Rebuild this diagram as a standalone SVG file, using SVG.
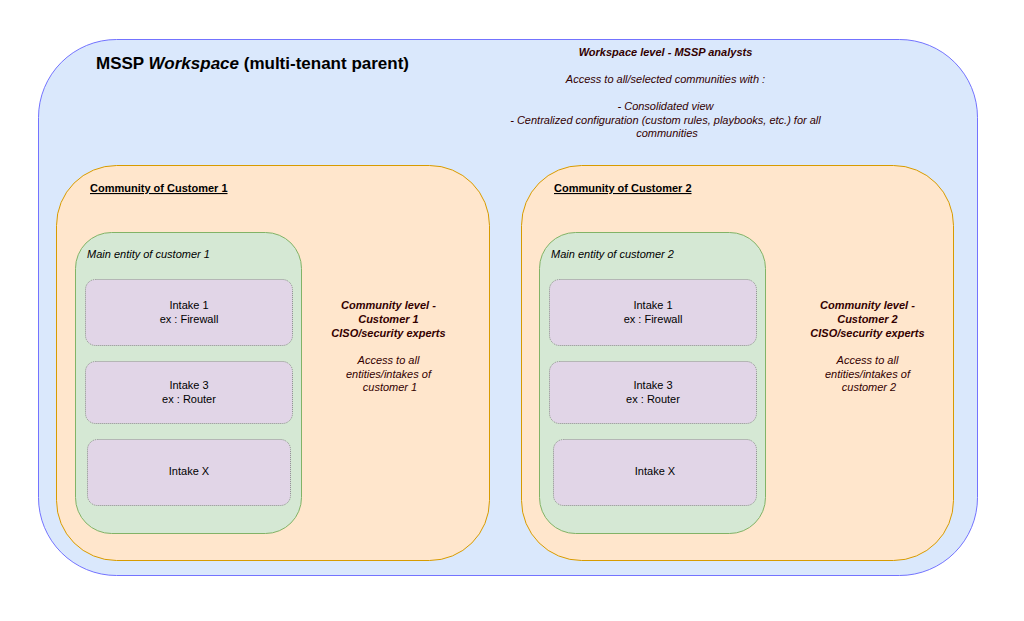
<svg xmlns="http://www.w3.org/2000/svg" width="1024" height="621" viewBox="0 0 1024 621">
<style>
text{font-family:"Liberation Sans",Arial,Helvetica,sans-serif;}
.ws{fill:#dae8fc;stroke:#7373ff;stroke-width:1;}
.com{fill:#ffe6cc;stroke:#d79b00;stroke-width:1;}
.ent{fill:#d5e8d4;stroke:#82b366;stroke-width:1;}
.int{fill:#e1d5e7;stroke:#8c8c8c;stroke-width:1;stroke-dasharray:1 1;}
.t11{font-size:11px;fill:#000;}
.note{font-size:11px;fill:#330000;font-style:italic;}
.b{font-weight:bold;}
.ctr{text-anchor:middle;}
</style>
<rect width="1024" height="621" fill="#ffffff"/>
<g id="workspace">
<rect class="ws" x="38.500" y="39.500" width="939" height="536" rx="78" ry="78"/>
<text x="96" y="69" font-size="17" font-weight="bold" fill="#000">MSSP <tspan font-style="italic">Workspace</tspan> (multi-tenant parent)</text>
<text class="note ctr" x="667">
<tspan x="667" y="56" class="b">Workspace level - MSSP analysts</tspan>
<tspan x="667" y="83">Access to all/selected communities with :</tspan>
<tspan x="667" y="110">- Consolidated view</tspan>
<tspan x="667" y="123.500">- Centralized configuration (custom rules, playbooks, etc.) for all</tspan>
<tspan x="667" y="137">communities</tspan>
</text>
</g>
<g id="community1">
<rect class="com" x="56.500" y="165.500" width="433" height="395" rx="60" ry="60"/>
<text class="t11 b" x="90" y="192" text-decoration="underline">Community of Customer 1</text>
<text class="note ctr">
<tspan x="390" y="309" class="b">Community level -</tspan>
<tspan x="390" y="323" class="b">Customer 1</tspan>
<tspan x="390" y="337" class="b">CISO/security experts</tspan>
<tspan x="390" y="364">Access to all</tspan>
<tspan x="390" y="377.500">entities/intakes of</tspan>
<tspan x="390" y="391">customer 1</tspan>
</text>
</g>
<g id="entity1">
<rect class="ent" x="75.500" y="232.500" width="226" height="301" rx="36" ry="36"/>
<text class="t11" x="87" y="258" font-style="italic">Main entity of customer 1</text>
</g>
<g id="c1-intake1">
<rect class="int" x="85.500" y="279.500" width="207" height="66" rx="10" ry="10"/>
<text class="t11 ctr"><tspan x="189" y="309">Intake 1</tspan><tspan x="189" y="323">ex : Firewall</tspan></text>
</g>
<g id="c1-intake3">
<rect class="int" x="85.500" y="361.500" width="207" height="62" rx="10" ry="10"/>
<text class="t11 ctr"><tspan x="189" y="389">Intake 3</tspan><tspan x="189" y="403">ex : Router</tspan></text>
</g>
<g id="c1-intakeX">
<rect class="int" x="87.500" y="439.500" width="203" height="66" rx="10" ry="10"/>
<text class="t11 ctr" x="189" y="475">Intake X</text>
</g>
<g id="community2">
<rect class="com" x="521.500" y="165.500" width="432" height="395" rx="60" ry="60"/>
<text class="t11 b" x="554" y="192" text-decoration="underline">Community of Customer 2</text>
<text class="note ctr">
<tspan x="869" y="309" class="b">Community level -</tspan>
<tspan x="869" y="323" class="b">Customer 2</tspan>
<tspan x="869" y="337" class="b">CISO/security experts</tspan>
<tspan x="869" y="364">Access to all</tspan>
<tspan x="869" y="377.500">entities/intakes of</tspan>
<tspan x="869" y="391">customer 2</tspan>
</text>
</g>
<g id="entity2">
<rect class="ent" x="539.500" y="232.500" width="226" height="301" rx="36" ry="36"/>
<text class="t11" x="551" y="258" font-style="italic">Main entity of customer 2</text>
</g>
<g id="c2-intake1">
<rect class="int" x="549.500" y="279.500" width="207" height="66" rx="10" ry="10"/>
<text class="t11 ctr"><tspan x="653" y="309">Intake 1</tspan><tspan x="653" y="323">ex : Firewall</tspan></text>
</g>
<g id="c2-intake3">
<rect class="int" x="549.500" y="361.500" width="207" height="62" rx="10" ry="10"/>
<text class="t11 ctr"><tspan x="653" y="389">Intake 3</tspan><tspan x="653" y="403">ex : Router</tspan></text>
</g>
<g id="c2-intakeX">
<rect class="int" x="553.500" y="439.500" width="203" height="66" rx="10" ry="10"/>
<text class="t11 ctr" x="655" y="475">Intake X</text>
</g>
<g id="connectors"></g>
</svg>
